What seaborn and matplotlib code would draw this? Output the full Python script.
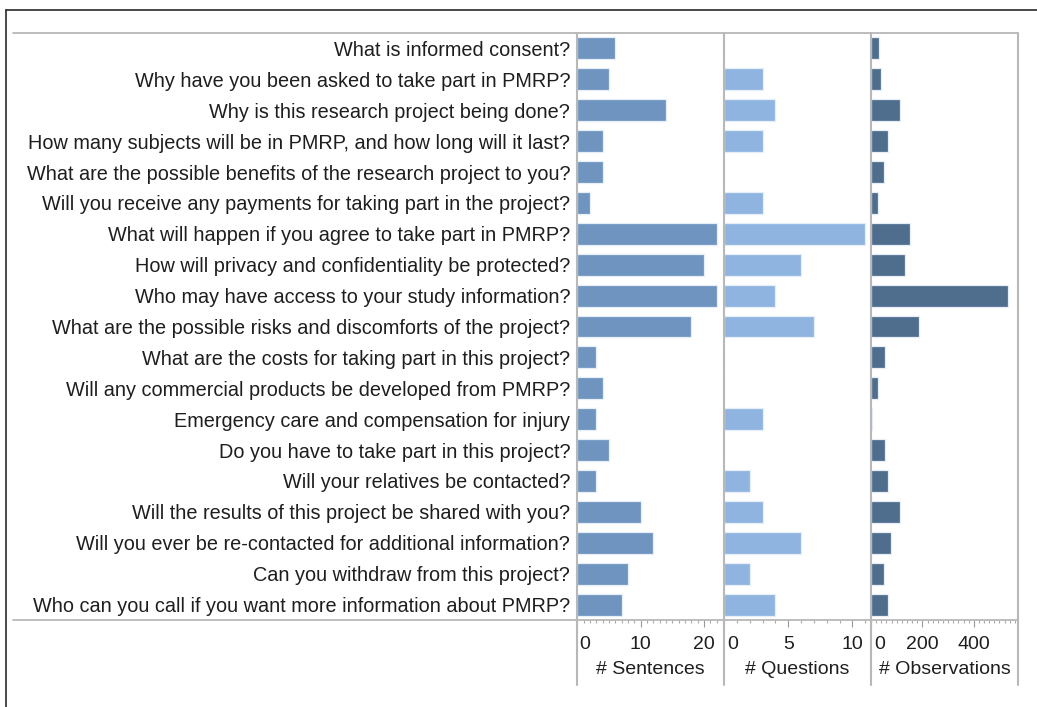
import matplotlib
matplotlib.use("Agg")
import matplotlib.pyplot as plt
import matplotlib.transforms as mtransforms
from matplotlib.lines import Line2D
from matplotlib.ticker import MultipleLocator, FixedLocator
import seaborn as sns

questions = [
    "What is informed consent?",
    "Why have you been asked to take part in PMRP?",
    "Why is this research project being done?",
    "How many subjects will be in PMRP, and how long will it last?",
    "What are the possible benefits of the research project to you?",
    "Will you receive any payments for taking part in the project?",
    "What will happen if you agree to take part in PMRP?",
    "How will privacy and confidentiality be protected?",
    "Who may have access to your study information?",
    "What are the possible risks and discomforts of the project?",
    "What are the costs for taking part in this project?",
    "Will any commercial products be developed from PMRP?",
    "Emergency care and compensation for injury",
    "Do you have to take part in this project?",
    "Will your relatives be contacted?",
    "Will the results of this project be shared with you?",
    "Will you ever be re-contacted for additional information?",
    "Can you withdraw from this project?",
    "Who can you call if you want more information about PMRP?",
]
n_sentences = [6, 5, 14, 4, 4, 2, 22, 20, 22, 18, 3, 4, 3, 5, 3, 10, 12, 8, 7]
n_questions = [0, 3, 4, 3, 0, 3, 11, 6, 4, 7, 0, 0, 3, 0, 2, 3, 6, 2, 4]
n_observations = [32, 38, 112, 67, 49, 26, 150, 133, 535, 185, 55, 26, 5, 55, 67, 112, 78, 49, 67]

panel_titles = ["# Sentences", "# Questions", "# Observations"]
panel_ticks = [[0, 10, 20], [0, 5, 10], [0, 200, 400]]
panel_limits = [23.15, 11.45, 572]
panel_minor = [1, 1, 20]
panel_colors = ["#6f94bf", "#90b4e0", "#4f6d8c"]

sns.set_style("white")
plt.rcParams["font.family"] = ["Liberation Sans", "DejaVu Sans"]
TXT = "#1e1e1e"
GRID = "#b8b8b8"

W, H = 1037, 707
fig = plt.figure(figsize=(W / 100, H / 100), dpi=100)


def fx(x):
    return x / W


def fy(y):
    return 1 - y / H


top_px, bot_px = 33, 620
edges = [577.3, 724, 871, 1018]

for i, (vals, title, ticks, lim, minor, col) in enumerate(
        zip([n_sentences, n_questions, n_observations], panel_titles, panel_ticks,
            panel_limits, panel_minor, panel_colors)):
    ax = fig.add_axes([fx(edges[i]), fy(bot_px), fx(edges[i + 1] - edges[i]),
                       (bot_px - top_px) / H])
    sns.barplot(x=vals, y=questions, ax=ax, color=col, orient="h", width=0.71,
                saturation=1, edgecolor="#e6eef8", linewidth=0.9)
    ax.set_xlim(0, lim)
    ax.set_ylim(len(questions) - 0.5, -0.5)
    for s in ax.spines.values():
        s.set_visible(False)
    ax.xaxis.set_major_locator(FixedLocator(ticks))
    ax.xaxis.set_minor_locator(MultipleLocator(minor))
    ax.tick_params(axis="x", which="major", bottom=True, length=5, width=0.8,
                   color="#999999", labelsize=14, labelcolor=TXT, pad=6.5)
    ax.tick_params(axis="x", which="minor", bottom=True, length=2.5, width=0.8,
                   color="#aaaaaa")
    ax.set_xlabel(title, fontsize=14, color=TXT, labelpad=6)
    ax.set_ylabel("")
    if i == 0:
        ax.tick_params(axis="y", length=0, labelsize=14.3, labelcolor=TXT, pad=5)
    else:
        ax.tick_params(axis="y", left=False, labelleft=False)
    fig.canvas.draw()
    labels = ax.get_xticklabels()
    labels[0].set_horizontalalignment("left")
    off = mtransforms.ScaledTranslation((1.5 if i == 0 else 3.5) / 100, 0,
                                        fig.dpi_scale_trans)
    labels[0].set_transform(labels[0].get_transform() + off)

# panel frame lines
fig.add_artist(Line2D([fx(13), fx(1018)], [fy(top_px), fy(top_px)], color=GRID, lw=1.3))
fig.add_artist(Line2D([fx(13), fx(1018)], [fy(bot_px), fy(bot_px)], color=GRID, lw=1.3))
for e in edges:
    fig.add_artist(Line2D([fx(e), fx(e)], [fy(top_px), fy(685)], color=GRID, lw=1.5))

# outer black frame
fig.add_artist(Line2D([fx(6), 1.0], [fy(10), fy(10)], color="#2a2a2a", lw=1.2))
fig.add_artist(Line2D([fx(6), fx(6)], [fy(10), 0.0], color="#2a2a2a", lw=1.2))

fig.savefig("out.png", dpi=100)
